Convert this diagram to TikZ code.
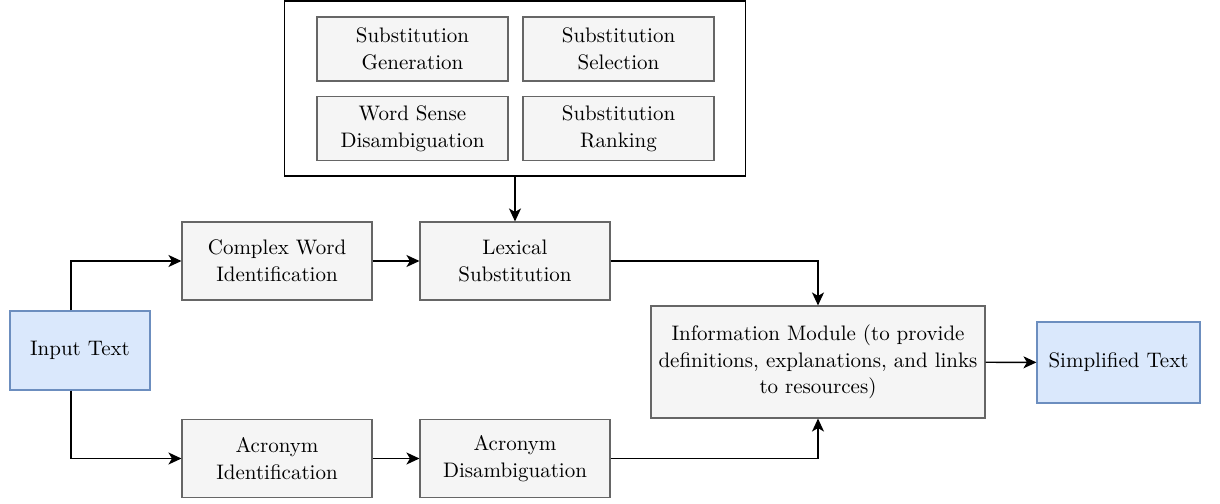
\documentclass[tikz,border=0pt]{standalone}
\usepackage{fontspec}
\setmainfont{lmroman10-regular.otf}[BoldFont=lmroman10-bold.otf]
\usepackage{tikz}
\usetikzlibrary{arrows.meta,positioning,calc}
\definecolor{boxfill}{HTML}{F5F5F5}
\definecolor{boxline}{HTML}{666666}
\definecolor{iofill}{HTML}{DAE8FC}
\definecolor{ioline}{HTML}{6C8EBF}
\definecolor{txt}{HTML}{000000}

\begin{document}
\begin{tikzpicture}[x=1pt,y=-1pt,
    font=\rmfamily\fontsize{21}{26.6}\selectfont,
    stage/.style={draw=boxline,fill=boxfill,line width=1.1pt,align=center,
      text=txt,inner sep=0pt,minimum width=190pt,minimum height=78pt},
    sub/.style={stage,minimum width=191pt,minimum height=64pt},
    iobox/.style={draw=ioline,fill=iofill,line width=1.1pt,align=center,
      text=txt,inner sep=0pt},
    link/.style={line width=1.4pt,-{Stealth[length=13pt,width=12pt,inset=3.5pt]}}]
  \useasboundingbox (0,0) rectangle (1220,503);
  \node[draw,fill=white,line width=1.3pt,minimum width=461pt,minimum height=175pt,
    inner sep=0pt] (lsbox) at (515,88.5) {};
  \foreach \lab/\px/\py [count=\i] in {
      Substitution\\Generation/412.5/49,
      Substitution\\Selection/618.5/49,
      Word Sense\\Disambiguation/412.5/128.5,
      Substitution\\Ranking/618.5/128.5} {
    \node[sub] (sub\i) at (\px,\py) {\lab};
  }
  \node[iobox,minimum width=140pt,minimum height=79pt] (input) at (80,350.5) {Input Text};
  \node[stage] (cwi) at (277,261) {Complex Word\\Identification};
  \node[stage] (lex) at (515,261) {Lexical\\Substitution};
  \node[stage] (acid) at (277,458.5) {Acronym\\Identification};
  \node[stage] (acdis) at (515,458.5) {Acronym\\Disambiguation};
  \node[stage,minimum width=334pt,minimum height=112pt] (info) at (818,362)
    {Information Module (to provide\\definitions, explanations, and links\\to resources)};
  \node[iobox,minimum width=163pt,minimum height=81pt] (simp) at (1118.5,362.5) {Simplified Text};

  \draw[link] ([xshift=-9pt]input.north) |- (cwi.west);
  \draw[link] ([xshift=-9pt]input.south) |- (acid.west);
  \draw[link] (cwi) -- (lex);
  \draw[link] (acid) -- (acdis);
  \draw[link] (lsbox.south) -- (lex.north);
  \draw[link] (lex.east) -| (info.north);
  \draw[link] (acdis.east) -| (info.south);
  \draw[link] (info) -- (simp);
\end{tikzpicture}
\end{document}
